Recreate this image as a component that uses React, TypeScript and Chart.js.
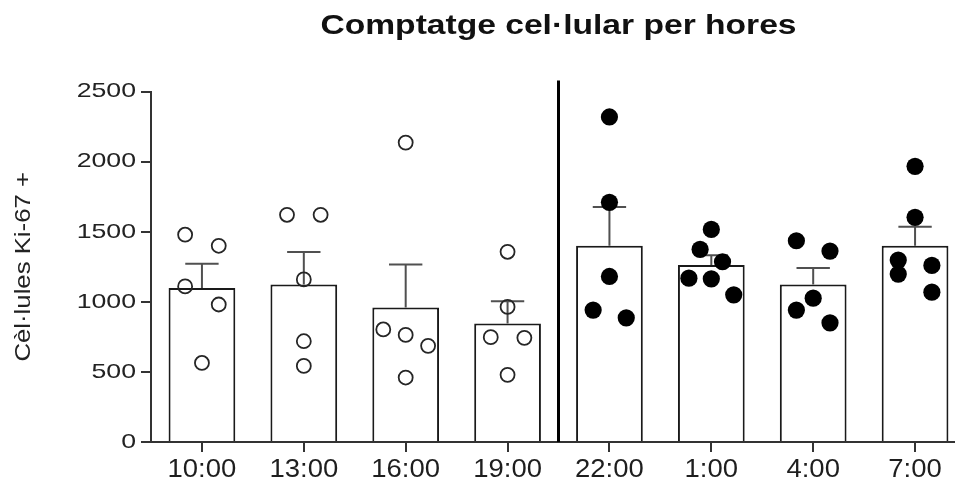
import React, { useEffect, useRef } from 'react';
import { Chart, registerables } from 'chart.js';

Chart.register(...registerables);

// ---------- data ----------
const TITLE = 'Comptatge cel·lular per hores';
const Y_TITLE = 'Cèl·lules Ki-67 +';
const TIME_LABELS = ['10:00', '13:00', '16:00', '19:00', '22:00', '1:00', '4:00', '7:00'];
const Y_TICKS = [0, 500, 1000, 1500, 2000, 2500];

// bar heights (means) and upper error (SEM)
const MEANS = [1098, 1124, 960, 846, 1400, 1262, 1124, 1400];
const SEMS = [173, 231, 307, 159, 276, 71, 117, 136];

// individual counts per time point
const POINTS_1000 = [1479, 1400, 1110, 981, 564];
const POINTS_1300 = [1621, 1621, 1160, 719, 543];
const POINTS_1600 = [2136, 803, 764, 686, 460];
const POINTS_1900 = [1357, 964, 748, 743, 479];
const POINTS_2200 = [2319, 1710, 1181, 941, 886];
const POINTS_0100 = [1517, 1374, 1286, 1169, 1164, 1050];
const POINTS_0400 = [1436, 1362, 1026, 941, 850];
const POINTS_0700 = [1967, 1603, 1298, 1260, 1198, 1069];

// horizontal swarm slot of each point (fraction of a category)
const SWARM_1000 = [-0.165, 0.165, -0.165, 0.165, 0];
const SWARM_1300 = [-0.165, 0.165, 0, 0, 0];
const SWARM_1600 = [0, -0.22, 0, 0.22, 0];
const SWARM_1900 = [0, 0, -0.165, 0.165, 0];
const SWARM_2200 = [0, 0, 0, -0.16, 0.165];
const SWARM_0100 = [0, -0.11, 0.11, -0.22, 0, 0.22];
const SWARM_0400 = [-0.165, 0.165, 0, -0.165, 0.165];
const SWARM_0700 = [0, 0, -0.165, 0.165, -0.165, 0.165];

const GROUP_POINTS = [POINTS_1000, POINTS_1300, POINTS_1600, POINTS_1900, POINTS_2200, POINTS_0100, POINTS_0400, POINTS_0700];
const GROUP_SWARM = [SWARM_1000, SWARM_1300, SWARM_1600, SWARM_1900, SWARM_2200, SWARM_0100, SWARM_0400, SWARM_0700];
const DAY_GROUPS = [0, 1, 2, 3];
const NIGHT_GROUPS = [4, 5, 6, 7];
const DIVIDER_AFTER_GROUP = 3;

// ---------- styling ----------
const FONT = '"Liberation Sans", Arial, Helvetica, sans-serif';
const TEXT_STRETCH: Record<number, number> = { 28: 1.2, 25: 1.1, 22: 1.17, 21: 1.27 };

function pointsFor(groups: number[]) {
  const out: { x: number; y: number }[] = [];
  groups.forEach((g) => {
    GROUP_POINTS[g].forEach((v, k) => out.push({ x: g + GROUP_SWARM[g][k], y: v }));
  });
  return out;
}

function patchTextStretch(ctx: any) {
  const orig = CanvasRenderingContext2D.prototype.fillText;
  ctx.fillText = function (text: string, x: number, y: number, maxWidth?: number) {
    const m = /(\d+(?:\.\d+)?)px/.exec(this.font);
    const s = m ? TEXT_STRETCH[Math.round(parseFloat(m[1]))] ?? 1 : 1;
    if (s === 1) {
      if (maxWidth === undefined) orig.call(this, text, x, y);
      else orig.call(this, text, x, y, maxWidth);
      return;
    }
    this.save();
    this.translate(x, y);
    this.scale(s, 1);
    orig.call(this, text, 0, 0);
    this.restore();
  };
  return () => {
    delete ctx.fillText;
  };
}

const errorBarPlugin = {
  id: 'semBars',
  afterDatasetDraw(chart: any, args: any) {
    if (chart.data.datasets[args.index].type !== 'bar') return;
    const { ctx } = chart;
    const xs = chart.scales.x;
    const ys = chart.scales.y;
    const bars = chart.getDatasetMeta(args.index).data;
    ctx.save();
    ctx.strokeStyle = '#505050';
    ctx.lineWidth = 2;
    MEANS.forEach((m, i) => {
      const x = xs.getPixelForValue(i);
      const yb = ys.getPixelForValue(m);
      const yt = ys.getPixelForValue(m + SEMS[i]);
      const half = bars[i].width / 4;
      ctx.beginPath();
      ctx.moveTo(x, yb);
      ctx.lineTo(x, yt);
      ctx.moveTo(x - half, yt);
      ctx.lineTo(x + half, yt);
      ctx.stroke();
    });
    ctx.restore();
  },
  afterDatasetsDraw(chart: any) {
    const { ctx, chartArea } = chart;
    const x = chart.scales.x.getPixelForValue(DIVIDER_AFTER_GROUP + 0.5);
    ctx.save();
    ctx.strokeStyle = '#000';
    ctx.lineWidth = 3;
    ctx.beginPath();
    ctx.moveTo(x, chartArea.top - 11);
    ctx.lineTo(x, chartArea.bottom);
    ctx.stroke();
    ctx.restore();
  },
};

export default function App() {
  const ref = useRef<HTMLCanvasElement>(null);

  useEffect(() => {
    const canvas = ref.current!;
    const ctx = canvas.getContext('2d')!;
    const unpatch = patchTextStretch(ctx);

    const axisColor = '#333';
    const chart = new Chart(ctx, {
      type: 'bar',
      data: {
        datasets: [
          {
            type: 'scatter',
            data: pointsFor(DAY_GROUPS),
            order: 1,
            pointRadius: 7,
            pointBorderWidth: 1.8,
            borderColor: '#262626',
            backgroundColor: 'rgba(0,0,0,0)',
            pointBackgroundColor: 'rgba(0,0,0,0)',
            pointBorderColor: '#262626',
          } as any,
          {
            type: 'scatter',
            data: pointsFor(NIGHT_GROUPS),
            order: 1,
            pointRadius: 8.6,
            pointBorderWidth: 0,
            backgroundColor: '#000',
            pointBackgroundColor: '#000',
            borderColor: '#000',
          } as any,
          {
            type: 'bar',
            data: MEANS.map((m, i) => ({ x: i, y: m })),
            order: 2,
            backgroundColor: '#fff',
            borderColor: '#1a1a1a',
            borderWidth: 2,
            borderSkipped: 'bottom',
            barPercentage: 0.655,
            categoryPercentage: 1,
          } as any,
        ],
      },
      options: {
        responsive: false,
        animation: false,
        devicePixelRatio: 1,
        events: [],
        layout: { padding: { left: 0, right: 9, top: 0, bottom: 0 } },
        plugins: {
          legend: { display: false },
          tooltip: { enabled: false },
          title: {
            display: true,
            text: TITLE,
            fullSize: false,
            color: '#111',
            font: { family: FONT, size: 28, weight: 'bold', lineHeight: 1.2 },
            padding: { top: 9, bottom: 49 },
          },
        },
        scales: {
          x: {
            type: 'linear',
            min: -0.5,
            max: 7.5,
            offset: false,
            afterBuildTicks: (s: any) => {
              s.ticks = TIME_LABELS.map((_, i) => ({ value: i }));
            },
            afterFit: (s: any) => {
              s.height = 44;
            },
            ticks: {
              autoSkip: false,
              maxRotation: 0,
              padding: 3,
              color: '#1e1e1e',
              font: { family: FONT, size: 25 },
              callback: (v: any) => TIME_LABELS[Math.round(Number(v))] ?? '',
            },
            grid: { offset: false, drawOnChartArea: false, drawTicks: true, tickLength: 10, color: axisColor, lineWidth: 2 },
            border: { display: true, color: axisColor, width: 2 },
          },
          y: {
            min: 0,
            max: 2500,
            afterBuildTicks: (s: any) => {
              s.ticks = Y_TICKS.map((v) => ({ value: v }));
            },
            afterFit: (s: any) => {
              s.width = 151;
            },
            ticks: {
              padding: 5,
              color: '#222',
              font: { family: FONT, size: 21 },
              callback: (v: any) => String(v),
            },
            grid: { drawOnChartArea: false, drawTicks: true, tickLength: 10, color: axisColor, lineWidth: 2 },
            border: { display: true, color: axisColor, width: 2 },
            title: {
              display: true,
              text: Y_TITLE,
              color: '#222',
              font: { family: FONT, size: 22 },
              padding: { top: 11, bottom: 0 },
            },
          },
        },
      } as any,
      plugins: [errorBarPlugin],
    });

    return () => {
      chart.destroy();
      unpatch();
    };
  }, []);

  return (
    <div
      style={{
        position: 'absolute',
        left: 0,
        top: 0,
        width: 955,
        height: 486,
        overflow: 'hidden',
        background: '#fff',
      }}
    >
      <canvas ref={ref} width={975} height={486} style={{ display: 'block', width: 975, height: 486 }} />
    </div>
  );
}
